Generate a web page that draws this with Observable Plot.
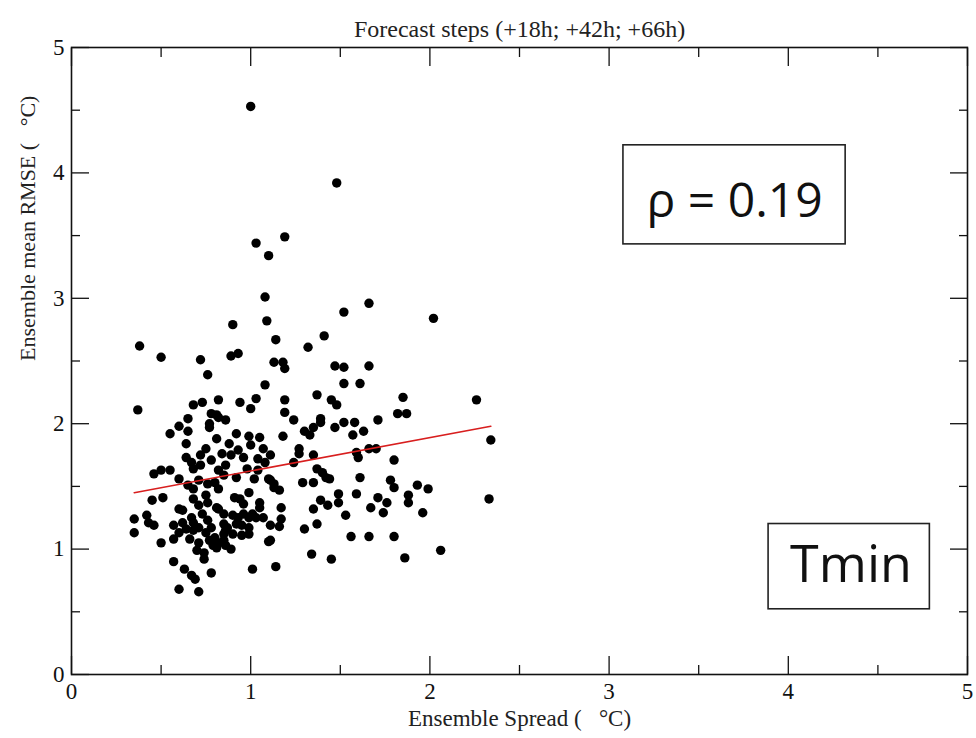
<!DOCTYPE html>
<html>
<head>
<meta charset="utf-8">
<script src="https://cdn.jsdelivr.net/npm/d3@7"></script>
<script src="https://cdn.jsdelivr.net/npm/@observablehq/plot@0.6"></script>
<style>
  html, body { margin: 0; padding: 0; background: #fff; }
</style>
</head>
<body>
<div id="chart"></div>
<script>
// ---- Data ----
const title = "Forecast steps (+18h; +42h; +66h)";
const xLabel = "Ensemble Spread (\u00a0\u00a0\u00a0°C)";
const yLabel = "Ensemble mean RMSE (\u00a0\u00a0\u00a0°C)";
const majorTicks = [0, 1, 2, 3, 4, 5];
const minorTicks = [0.5, 1.5, 2.5, 3.5, 4.5];

const spread = [
  1.00,1.48,1.03,1.19,1.10,1.08,1.09,1.52,1.66,2.02,
  0.38,0.50,0.90,0.89,0.93,0.72,0.76,1.14,1.41,1.32,
  1.13,1.18,1.19,1.08,1.47,1.52,1.66,1.52,1.61,2.26,
  1.85,1.82,1.87,0.37,0.68,0.73,0.82,0.94,1.03,1.00,
  1.19,1.19,1.37,1.45,1.48,1.24,1.39,1.39,1.35,1.30,
  1.33,1.47,1.52,1.58,1.63,1.57,1.71,1.18,0.78,0.81,
  0.82,0.86,0.77,0.77,0.65,0.60,0.65,0.55,0.64,0.81,
  0.92,0.99,1.05,1.27,1.27,1.35,1.24,1.59,1.60,1.66,
  1.70,1.80,2.34,1.37,1.40,1.42,1.44,1.11,1.13,1.16,
  1.29,1.35,1.61,1.78,1.80,1.93,1.99,1.59,1.49,1.49,
  1.39,1.43,1.71,1.67,1.76,1.88,1.88,2.33,1.17,1.35,
  1.53,1.74,1.96,1.17,1.16,1.11,1.37,1.30,1.56,1.66,
  1.80,1.11,2.06,1.34,1.45,1.86,1.14,0.46,0.50,0.55,
  0.67,0.68,0.72,0.78,0.60,0.65,0.68,0.71,0.76,0.45,
  0.51,0.60,0.62,0.68,0.71,0.75,0.76,0.35,0.42,0.43,
  0.46,0.35,0.57,0.60,0.57,0.62,0.64,0.67,0.68,0.68,
  0.71,0.73,0.76,0.78,0.75,0.66,0.71,0.50,0.70,0.74,
  0.77,0.79,0.57,0.74,0.63,0.67,0.69,0.78,0.60,0.71,
  1.02,0.92,1.10,1.13,0.82,0.80,0.82,0.99,0.91,0.94,
  0.96,1.05,1.05,0.81,0.82,0.85,0.90,0.93,0.96,0.99,
  1.01,1.03,1.07,0.85,0.87,0.86,0.92,0.95,0.99,0.85,
  0.90,0.95,0.99,0.80,0.82,0.81,0.85,0.86,0.89,1.10,
  1.01,0.84,0.89,0.93,0.96,1.04,0.86,0.98,1.07,1.00,
  0.75,0.72,0.64,0.85,1.04,1.08,0.88,1.11
];
const rmse = [
  4.53,3.92,3.44,3.49,3.34,3.01,2.82,2.89,2.96,2.84,
  2.62,2.53,2.79,2.54,2.56,2.51,2.39,2.67,2.70,2.61,
  2.49,2.49,2.44,2.31,2.46,2.45,2.46,2.32,2.32,2.19,
  2.21,2.08,2.08,2.11,2.15,2.17,2.19,2.17,2.20,2.12,
  2.19,2.09,2.23,2.19,2.15,2.03,2.04,2.01,1.97,1.94,
  1.91,1.97,2.01,2.01,1.94,1.91,2.03,1.90,2.08,2.07,
  2.05,2.03,2.00,1.97,2.04,1.98,1.94,1.92,1.84,1.88,
  1.92,1.90,1.89,1.80,1.76,1.75,1.69,1.77,1.73,1.80,
  1.80,1.71,1.87,1.64,1.61,1.57,1.56,1.55,1.49,1.47,
  1.53,1.53,1.57,1.55,1.49,1.51,1.48,1.44,1.44,1.37,
  1.39,1.35,1.41,1.33,1.37,1.43,1.37,1.40,1.33,1.32,
  1.27,1.29,1.29,1.24,1.18,1.19,1.20,1.16,1.10,1.10,
  1.10,1.07,0.99,0.96,0.92,0.93,0.86,1.60,1.63,1.63,
  1.69,1.64,1.67,1.71,1.56,1.51,1.48,1.55,1.52,1.39,
  1.41,1.32,1.31,1.40,1.35,1.43,1.37,1.24,1.27,1.21,
  1.19,1.13,1.19,1.13,1.08,1.21,1.16,1.25,1.21,1.15,
  1.17,1.28,1.23,1.17,1.13,1.08,1.05,1.05,0.99,0.97,
  1.07,1.03,0.90,0.92,0.84,0.79,0.76,0.81,0.68,0.66,
  1.56,1.57,1.56,1.52,1.63,1.53,1.48,1.45,1.41,1.40,
  1.36,1.37,1.33,1.33,1.32,1.28,1.27,1.25,1.28,1.25,
  1.28,1.25,1.25,1.20,1.17,1.15,1.20,1.19,1.17,1.12,
  1.12,1.11,1.12,1.09,1.05,1.01,1.07,1.03,1.00,1.06,
  0.84,1.76,1.75,1.79,1.73,1.72,1.67,1.64,1.80,1.83,
  1.80,1.75,1.73,1.59,1.63,1.69,1.84,1.75
];

// regression line end points
const fitX = [0.35, 2.34];
const fitY = [1.45, 1.98];

// annotation boxes (in data units)
const annotations = [
  {label: "ρ = 0.19", x1: 3.08, x2: 4.32, y1: 3.43, y2: 4.22, tx: 3.70, ty: 3.77, size: 48},
  {label: "Tmin", x1: 3.89, x2: 4.79, y1: 0.52, y2: 1.20, tx: 4.35, ty: 0.87, size: 52}
];

// ---- Build ----
const points = spread.map((x, i) => ({x, y: rmse[i]}));
const fit = fitX.map((x, i) => ({x, y: fitY[i]}));

const serif = "'Liberation Serif', 'Times New Roman', serif";

const chart = Plot.plot({
  width: 976,
  height: 738,
  marginLeft: 71,
  marginRight: 9,
  marginTop: 47,
  marginBottom: 64,
  style: {fontFamily: serif, fontSize: "22px", background: "#fff", color: "#111"},
  x: {domain: [0, 5]},
  y: {domain: [0, 5]},
  marks: [
    // inward major/minor ticks on all four sides
    Plot.axisX(majorTicks, {anchor: "bottom", tickSize: 18, dy: -18, text: null, label: null, strokeWidth: 1.3}),
    Plot.axisX(minorTicks, {anchor: "bottom", tickSize: 9, dy: -9, text: null, label: null, strokeWidth: 1.3}),
    Plot.axisX(majorTicks, {anchor: "top", tickSize: 18, dy: 18, text: null, label: null, strokeWidth: 1.3}),
    Plot.axisX(minorTicks, {anchor: "top", tickSize: 9, dy: 9, text: null, label: null, strokeWidth: 1.3}),
    Plot.axisY(majorTicks, {anchor: "left", tickSize: 18, dx: 18, text: null, label: null, strokeWidth: 1.3}),
    Plot.axisY(minorTicks, {anchor: "left", tickSize: 9, dx: 9, text: null, label: null, strokeWidth: 1.3}),
    Plot.axisY(majorTicks, {anchor: "right", tickSize: 18, dx: -18, text: null, label: null, strokeWidth: 1.3}),
    Plot.axisY(minorTicks, {anchor: "right", tickSize: 9, dx: -9, text: null, label: null, strokeWidth: 1.3}),
    // tick labels
    Plot.axisX(majorTicks, {anchor: "bottom", tickSize: 0, tickPadding: 8, label: null, tickFormat: d => String(d), fontSize: 23}),
    Plot.axisY(majorTicks, {anchor: "left", tickSize: 0, tickPadding: 7, label: null, tickFormat: d => String(d), fontSize: 23}),
    // frame
    Plot.frame({stroke: "#111", strokeWidth: 1.6}),
    // points
    Plot.dot(points, {x: "x", y: "y", r: 4.7, fill: "#000", stroke: "none"}),
    // regression line
    Plot.line(fit, {x: "x", y: "y", stroke: "#d81e1e", strokeWidth: 1.6}),
    // annotation boxes
    Plot.rect(annotations, {x1: "x1", x2: "x2", y1: "y1", y2: "y2", fill: "none", stroke: "#222", strokeWidth: 1.6}),
    Plot.text(annotations, {x: "tx", y: "ty", text: "label", fontSize: d => d.size, fontFamily: "'Open Sans', 'DejaVu Sans', sans-serif", fill: "#111", textAnchor: "middle", lineAnchor: "middle"}),
    // titles
    Plot.text([title], {text: d => d, frameAnchor: "top", dy: -28, fontSize: 24, fill: "#222"}),
    Plot.text([xLabel], {text: d => d, frameAnchor: "bottom", dy: 51, fontSize: 23, fill: "#222"}),
    Plot.text([yLabel], {text: d => d, frameAnchor: "left", dx: -44, rotate: -90, fontSize: 22, fill: "#222"})
  ]
});

document.getElementById("chart").appendChild(chart);
</script>
</body>
</html>
